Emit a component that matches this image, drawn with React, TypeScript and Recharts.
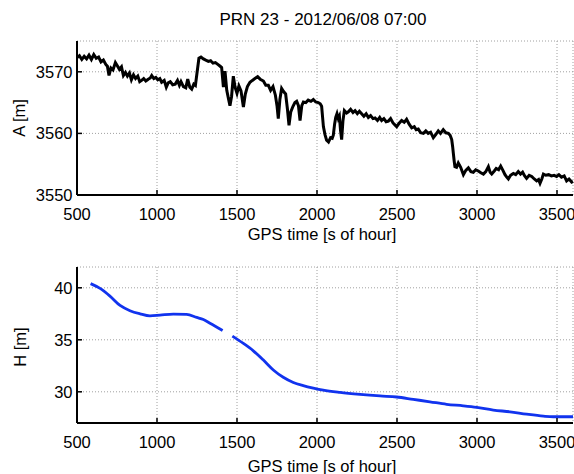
import React from "react";
import { LineChart, Line, XAxis, YAxis, CartesianGrid } from "recharts";

const titleText = "PRN 23 - 2012/06/08 07:00";
const xTitle = "GPS time [s of hour]";
const topYTitle = "A [m]";
const bottomYTitle = "H [m]";

const xTicks = [500, 1000, 1500, 2000, 2500, 3000, 3500];
const topYTicks = [3550, 3560, 3570];
const bottomYTicks = [30, 35, 40];

const aTime = [
  500, 515, 530, 545, 560, 575, 590, 605, 620, 635, 650, 665, 680, 690, 700, 712, 725, 740, 752, 765,
  778, 790, 803, 815, 828, 840, 853, 866, 880, 892, 904, 917, 930, 945, 958, 967, 980, 993, 1005, 1018,
  1029, 1045, 1058, 1070, 1083, 1098, 1114, 1128, 1140, 1150, 1165, 1180, 1192, 1205, 1217, 1230, 1240, 1250, 1262, 1275,
  1290, 1305, 1321, 1335, 1350, 1365, 1380, 1395, 1404, 1415, 1425, 1436, 1447, 1456, 1466, 1477, 1488, 1500, 1512, 1525,
  1540, 1552, 1565, 1581, 1596, 1612, 1629, 1645, 1665, 1680, 1696, 1710, 1725, 1740, 1750, 1758, 1768, 1779, 1791, 1804,
  1815, 1825, 1836, 1850, 1862, 1873, 1884, 1894, 1905, 1915, 1930, 1945, 1962, 1977, 1992, 2008, 2020, 2029, 2040, 2050,
  2060, 2072, 2085, 2095, 2102, 2110, 2117, 2125, 2133, 2140, 2147, 2154, 2162, 2171, 2185, 2196, 2210, 2225, 2238, 2252,
  2265, 2279, 2293, 2307, 2321, 2335, 2350, 2363, 2378, 2392, 2404, 2418, 2432, 2446, 2460, 2475, 2490, 2498, 2512, 2529,
  2545, 2560, 2576, 2592, 2608, 2620, 2633, 2648, 2665, 2680, 2695, 2710, 2727, 2742, 2758, 2772, 2789, 2805, 2821, 2832,
  2842, 2848, 2852, 2857, 2862, 2872, 2883, 2898, 2915, 2930, 2946, 2962, 2977, 2992, 3008, 3024, 3040, 3055, 3071, 3082,
  3092, 3108, 3120, 3135, 3148, 3162, 3175, 3186, 3196, 3210, 3227, 3242, 3258, 3272, 3285, 3298, 3310, 3326, 3342, 3358,
  3373, 3385, 3394, 3405, 3415, 3430, 3448, 3465, 3482, 3498, 3512, 3528, 3545, 3560, 3575, 3592, 3600,
];
const aValue = [
  3572.3, 3572.6, 3572.0, 3572.5, 3572.1, 3572.7, 3572.0, 3572.8, 3572.2, 3572.4, 3571.6, 3571.9, 3571.2, 3570.9, 3569.4, 3570.6, 3570.3, 3571.5, 3571.0, 3570.4,
  3570.8, 3569.4, 3569.9, 3569.3, 3569.8, 3568.7, 3569.5, 3568.9, 3569.3, 3568.4, 3568.6, 3568.9, 3568.5, 3568.8, 3569.0, 3569.4, 3568.9, 3569.1, 3568.7, 3568.9,
  3568.3, 3568.6, 3567.5, 3568.2, 3568.4, 3567.9, 3568.0, 3568.6, 3567.8, 3568.4, 3567.6, 3567.4, 3568.8, 3567.5, 3567.2, 3568.0, 3567.8, 3569.8, 3572.2, 3572.4,
  3572.1, 3571.9, 3571.7, 3571.8, 3571.4, 3571.5, 3571.2, 3570.9, 3570.7, 3567.5, 3570.1, 3567.0, 3565.6, 3564.5, 3566.0, 3569.3, 3567.5, 3566.5, 3567.7, 3566.9,
  3564.3, 3566.4, 3567.6, 3568.3, 3568.6, 3568.9, 3569.2, 3568.8, 3568.5, 3567.8, 3567.8, 3567.0, 3567.6, 3566.2, 3564.5, 3562.4, 3565.5, 3567.3, 3566.8, 3566.4,
  3564.0, 3561.3, 3563.5, 3564.4, 3565.0, 3565.2, 3564.5, 3562.1, 3564.5, 3565.1, 3565.0, 3565.4, 3565.2, 3565.5, 3565.1, 3565.0, 3564.8, 3564.4, 3561.1, 3559.8,
  3558.9, 3558.6, 3559.3, 3559.2, 3559.7, 3561.5, 3562.6, 3563.2, 3562.4, 3562.8, 3560.5, 3559.0, 3562.0, 3563.7, 3563.3, 3563.5, 3563.9, 3563.4, 3563.7, 3563.2,
  3563.6, 3563.2, 3562.8, 3563.2, 3562.6, 3562.9, 3562.4, 3562.5, 3562.1, 3562.6, 3562.1, 3562.4, 3561.9, 3562.0, 3562.4, 3561.7, 3561.3, 3561.1, 3561.6, 3562.1,
  3561.8, 3562.3, 3561.5, 3560.9, 3561.1, 3560.6, 3560.7, 3560.1, 3560.0, 3560.4, 3560.0, 3560.2, 3559.3, 3559.8, 3560.4, 3560.0, 3560.6, 3560.1, 3560.0, 3559.7,
  3559.0, 3557.8, 3556.8, 3555.6, 3554.6, 3554.5, 3555.2, 3554.5, 3553.3, 3554.0, 3554.4, 3553.8, 3553.7, 3554.1, 3553.9, 3553.6, 3553.4, 3553.8, 3554.6, 3553.7,
  3553.4, 3553.9, 3554.3, 3554.1, 3554.7, 3554.0, 3553.3, 3552.9, 3552.6, 3553.2, 3553.5, 3553.3, 3553.8, 3553.4, 3553.7, 3553.1, 3552.7, 3553.2, 3553.0, 3552.6,
  3552.3, 3552.5, 3551.9, 3552.6, 3553.4, 3553.2, 3553.3, 3553.1, 3553.2, 3553.0, 3553.3, 3552.9, 3553.1, 3552.3, 3552.6, 3552.1, 3552.2,
];

const hTime = [
  585, 644, 706, 769, 831, 894, 956, 1019, 1102, 1185, 1248, 1290, 1331, 1410, 1440,
  1471, 1540, 1602, 1665, 1727, 1789, 1852, 1914, 1977, 2039, 2144, 2269, 2394, 2498,
  2602, 2706, 2810, 2914, 2998, 3102, 3206, 3310, 3415, 3477, 3600,
];
const hValue: (number | null)[] = [
  40.4, 39.94, 39.2, 38.3, 37.8, 37.5, 37.3, 37.37, 37.47, 37.44, 37.15, 36.95, 36.6, 35.9, null,
  35.35, 34.65, 33.94, 33.05, 32.1, 31.4, 30.9, 30.6, 30.36, 30.16, 29.94, 29.75, 29.6, 29.5,
  29.27, 29.04, 28.8, 28.65, 28.5, 28.24, 28.08, 27.85, 27.66, 27.6, 27.6,
];

const aData = aTime.map((t, i) => ({ t, a: aValue[i] }));
const hData = hTime.map((t, i) => ({ t, h: hValue[i] }));

const FONT = "'Liberation Sans', Arial, Helvetica, sans-serif";
const tickStyle = { fill: "#000", fontSize: 16.5, fontFamily: FONT };
const gridColor = "#a0a0a0";

export default function App() {
  return (
    <div
      style={{
        position: "absolute",
        left: 0,
        top: 0,
        width: 574,
        height: 474,
        background: "#fff",
        overflow: "hidden",
      }}
    >
      <div style={{ position: "absolute", left: 0, top: 0 }}>
        <LineChart width={574} height={250} data={aData} margin={{ top: 41, right: 1, bottom: 0, left: 0 }}>
          <CartesianGrid stroke={gridColor} strokeDasharray="1 2" strokeWidth={1} />
          <XAxis
            dataKey="t"
            type="number"
            domain={[500, 3600]}
            ticks={xTicks}
            height={55}
            tick={tickStyle}
            tickSize={-5}
            tickMargin={18}
            axisLine={{ stroke: "#000", strokeWidth: 2 }}
            tickLine={{ stroke: "#000", strokeWidth: 1.5 }}
            interval={0}
          />
          <YAxis
            type="number"
            domain={[3550, 3575]}
            ticks={topYTicks}
            width={77}
            tick={tickStyle}
            tickSize={-5}
            tickMargin={9.5}
            axisLine={{ stroke: "#000", strokeWidth: 2 }}
            tickLine={{ stroke: "#000", strokeWidth: 1.5 }}
            interval={0}
          />
          <Line
            dataKey="a"
            type="linear"
            stroke="#000"
            strokeWidth={3}
            dot={false}
            isAnimationActive={false}
          />
        </LineChart>
      </div>
      <div style={{ position: "absolute", left: 0, top: 250 }}>
        <LineChart width={574} height={224} data={hData} margin={{ top: 17, right: 1, bottom: 0, left: 0 }}>
          <CartesianGrid stroke={gridColor} strokeDasharray="1 2" strokeWidth={1} />
          <XAxis
            dataKey="t"
            type="number"
            domain={[500, 3600]}
            ticks={xTicks}
            height={51}
            tick={tickStyle}
            tickSize={-5}
            tickMargin={18}
            axisLine={{ stroke: "#000", strokeWidth: 2 }}
            tickLine={{ stroke: "#000", strokeWidth: 1.5 }}
            interval={0}
          />
          <YAxis
            type="number"
            domain={[27, 42]}
            ticks={bottomYTicks}
            width={77}
            tick={tickStyle}
            tickSize={-5}
            tickMargin={9.5}
            axisLine={{ stroke: "#000", strokeWidth: 2 }}
            tickLine={{ stroke: "#000", strokeWidth: 1.5 }}
            interval={0}
          />
          <Line
            dataKey="h"
            type="monotone"
            stroke="#1133ee"
            strokeWidth={2.8}
            dot={false}
            connectNulls={false}
            isAnimationActive={false}
          />
        </LineChart>
      </div>
      <svg
        width={574}
        height={474}
        style={{ position: "absolute", left: 0, top: 0, pointerEvents: "none" }}
        fontFamily={FONT}
      >
        <text x={323} y={25} textAnchor="middle" fontSize={17} fill="#000">
          {titleText}
        </text>
        <text x={322} y={240} textAnchor="middle" fontSize={16.5} fill="#000">
          {xTitle}
        </text>
        <text x={322} y={472} textAnchor="middle" fontSize={16.5} fill="#000">
          {xTitle}
        </text>
        <text
          x={24.5}
          y={118}
          textAnchor="middle"
          fontSize={16.5}
          fill="#000"
          transform="rotate(-90 24.5 118)"
        >
          {topYTitle}
        </text>
        <text
          x={26}
          y={347}
          textAnchor="middle"
          fontSize={16.5}
          fill="#000"
          transform="rotate(-90 26 347)"
        >
          {bottomYTitle}
        </text>
      </svg>
    </div>
  );
}
